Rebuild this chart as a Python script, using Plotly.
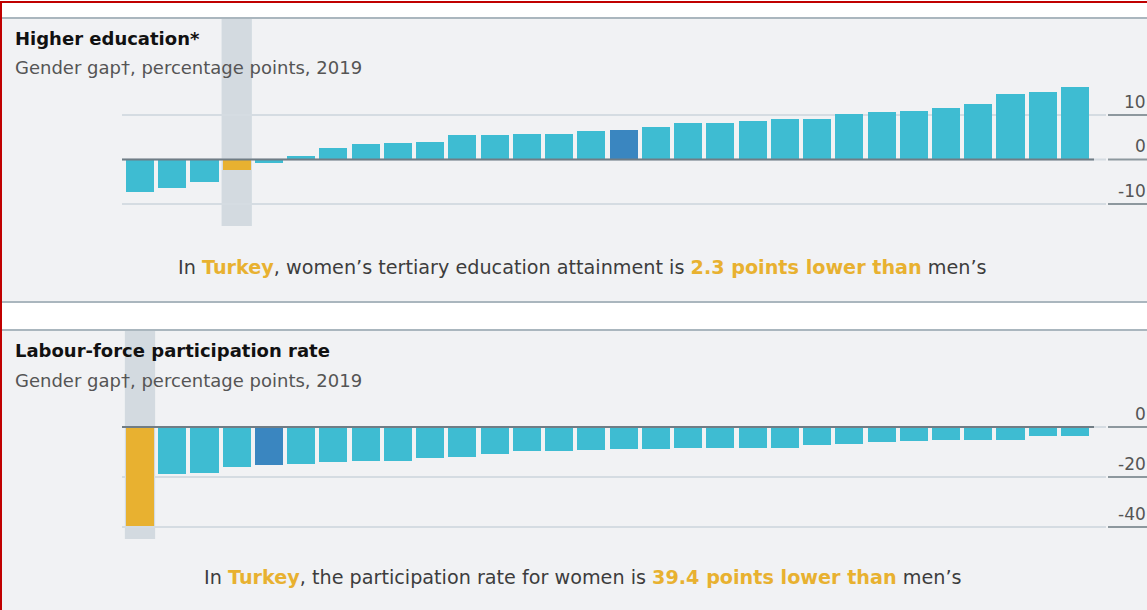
import plotly.graph_objects as go

W, H = 1147, 610

# ---------------- data ----------------
positions = list(range(30))

edu_values = [-7.3, -6.4, -5.1, -2.3, -0.7, 0.9, 2.5, 3.5, 3.8, 4.0,
              5.5, 5.6, 5.7, 5.7, 6.4, 6.7, 7.4, 8.2, 8.2, 8.6,
              9.1, 9.1, 10.3, 10.6, 11.0, 11.5, 12.4, 14.7, 15.1, 16.2]
edu_turkey_index = 3
edu_average_index = 15
edu_ticks = [10, 0, -10]
edu_ticktext = ["10", "0", "-10"]

lab_values = [-39.4, -18.7, -18.4, -16.1, -15.2, -14.6, -14.1, -13.7, -13.4, -12.3,
              -11.8, -10.6, -9.5, -9.4, -9.3, -8.9, -8.7, -8.5, -8.4, -8.4,
              -8.3, -7.1, -6.9, -6.0, -5.5, -5.2, -5.2, -5.1, -3.6, -3.5]
lab_turkey_index = 0
lab_average_index = 4
lab_ticks = [0, -20, -40]
lab_ticktext = ["0", "-20", "-40"]

titles = ["Higher education*", "Labour-force participation rate"]
subtitles = ["Gender gap†, percentage points, 2019", "Gender gap†, percentage points, 2019"]
edu_note = ("In <span style='color:#e8b130'><b>Turkey</b></span>, women’s tertiary education attainment is "
            "<span style='color:#e8b130'><b>2.3 points lower than</b></span> men’s")
lab_note = ("In <span style='color:#e8b130'><b>Turkey</b></span>, the participation rate for women is "
            "<span style='color:#e8b130'><b>39.4 points lower than</b></span> men’s")

# ---------------- style ----------------
CYAN = "#3ebcd2"
DARK = "#3a86c0"
ORANGE = "#e8b130"
PANEL = "#f1f2f4"
BAND = "#d3dae0"
GRID = "#d5dce2"
ZERO = "#707d85"
UNDER = "#8d989e"
FONT = "DejaVu Sans, Verdana, sans-serif"


def py(px):
    return 1 - px / H


def px_x(px):
    return px / W


def colors(n, t, a):
    c = [CYAN] * n
    c[t] = ORANGE
    c[a] = DARK
    return c


fig = go.Figure()
fig.add_trace(go.Bar(x=positions, y=edu_values, marker=dict(color=colors(30, edu_turkey_index, edu_average_index), line=dict(width=0)),
                     width=0.87, xaxis="x", yaxis="y", hoverinfo="skip"))
fig.add_trace(go.Bar(x=positions, y=lab_values, marker=dict(color=colors(30, lab_turkey_index, lab_average_index), line=dict(width=0)),
                     width=0.87, xaxis="x2", yaxis="y2", hoverinfo="skip"))

# x mapping: bar i centre at 140 + 32.24*i px
pitch = 32.24
x0c = 140
xr = [(0 - x0c) / pitch, (W - x0c) / pitch]

# panel 1: zero at 159.5px, 4.45 px/unit, domain 18..302 px
d1 = (18, 302)
r1 = [(159.5 - d1[1]) / 4.45, (159.5 - d1[0]) / 4.45]
# panel 2: zero at 427px, 2.5 px/unit, domain 331..610 px
d2 = (331, 610)
r2 = [(427 - d2[1]) / 2.5, (427 - d2[0]) / 2.5]

axis_common = dict(showgrid=False, zeroline=False, showline=False, fixedrange=True)

fig.update_layout(
    width=W, height=H,
    margin=dict(l=0, r=0, t=0, b=0),
    paper_bgcolor="white",
    plot_bgcolor="rgba(0,0,0,0)",
    showlegend=False,
    bargap=0,
    xaxis=dict(domain=[0, 1], range=xr, visible=False, anchor="y", **axis_common),
    xaxis2=dict(domain=[0, 1], range=xr, visible=False, anchor="y2", **axis_common),
    yaxis=dict(domain=[py(d1[1]), py(d1[0])], range=r1, side="right", anchor="x",
               showticklabels=False, ticks="", **axis_common),
    yaxis2=dict(domain=[py(d2[1]), py(d2[0])], range=r2, side="right", anchor="x2",
                showticklabels=False, ticks="", **axis_common),
)

shapes = []
# panel backgrounds
for (a, b) in [d1, d2]:
    shapes.append(dict(type="rect", xref="paper", yref="paper", x0=0, x1=1, y0=py(b), y1=py(a),
                       fillcolor=PANEL, line=dict(width=0), layer="below"))
# highlight bands
shapes.append(dict(type="rect", xref="x", yref="paper", x0=edu_turkey_index - 0.47, x1=edu_turkey_index + 0.47,
                   y0=py(226), y1=py(18), fillcolor=BAND, line=dict(width=0), layer="below"))
shapes.append(dict(type="rect", xref="x2", yref="paper", x0=lab_turkey_index - 0.47, x1=lab_turkey_index + 0.47,
                   y0=py(539), y1=py(331), fillcolor=BAND, line=dict(width=0), layer="below"))
ann = []
tickfont = dict(family=FONT, size=17, color="#555555")
# gridlines, underlines and tick labels
for yref, ticks, texts in [("y", edu_ticks, edu_ticktext), ("y2", lab_ticks, lab_ticktext)]:
    for t, s in zip(ticks, texts):
        shapes.append(dict(type="line", xref="paper", yref=yref, x0=px_x(122), x1=px_x(1106), y0=t, y1=t,
                           line=dict(color=GRID, width=2), layer="below"))
        shapes.append(dict(type="line", xref="paper", yref=yref, x0=px_x(1108), x1=1, y0=t, y1=t,
                           line=dict(color=UNDER, width=2), layer="above"))
        if t == 0:
            shapes.append(dict(type="line", xref="paper", yref=yref, x0=px_x(122), x1=px_x(1094), y0=0, y1=0,
                               line=dict(color=ZERO, width=2), layer="above"))
        ann.append(dict(text=s, xref="paper", yref=yref, x=1, y=t, xanchor="right", yanchor="bottom",
                        yshift=1, xshift=1, showarrow=False, font=tickfont))
# panel separators
for ypx in [18, 302, 330]:
    shapes.append(dict(type="line", xref="paper", yref="paper", x0=0, x1=1, y0=py(ypx), y1=py(ypx),
                       line=dict(color="#aab6be", width=2)))
# red frame (top & left)
shapes.append(dict(type="line", xref="paper", yref="paper", x0=0, x1=1, y0=py(2), y1=py(2),
                   line=dict(color="#c00000", width=2)))
shapes.append(dict(type="line", xref="paper", yref="paper", x0=px_x(1), x1=px_x(1), y0=0, y1=py(2),
                   line=dict(color="#c00000", width=2)))
fig.update_layout(shapes=shapes)

for title, sub, ty, sy in [(titles[0], subtitles[0], 39, 68), (titles[1], subtitles[1], 351, 380)]:
    ann.append(dict(text=f"<b>{title}</b>", xref="paper", yref="paper", x=px_x(13), y=py(ty),
                    xanchor="left", yanchor="middle", showarrow=False,
                    font=dict(family=FONT, size=18, color="#111111")))
    ann.append(dict(text=sub, xref="paper", yref="paper", x=px_x(13), y=py(sy),
                    xanchor="left", yanchor="middle", showarrow=False,
                    font=dict(family=FONT, size=18, color="#555555")))
ann.append(dict(text=edu_note, xref="paper", yref="paper", x=px_x(583), y=py(267),
                xanchor="center", yanchor="middle", showarrow=False,
                font=dict(family=FONT, size=19.2, color="#3d3d3d")))
ann.append(dict(text=lab_note, xref="paper", yref="paper", x=px_x(583), y=py(577),
                xanchor="center", yanchor="middle", showarrow=False,
                font=dict(family=FONT, size=19.2, color="#3d3d3d")))
fig.update_layout(annotations=ann)

fig.write_html("out.html", config={"displayModeBar": False},
               post_script="document.body.style.margin='0';document.body.style.overflow='hidden';")
